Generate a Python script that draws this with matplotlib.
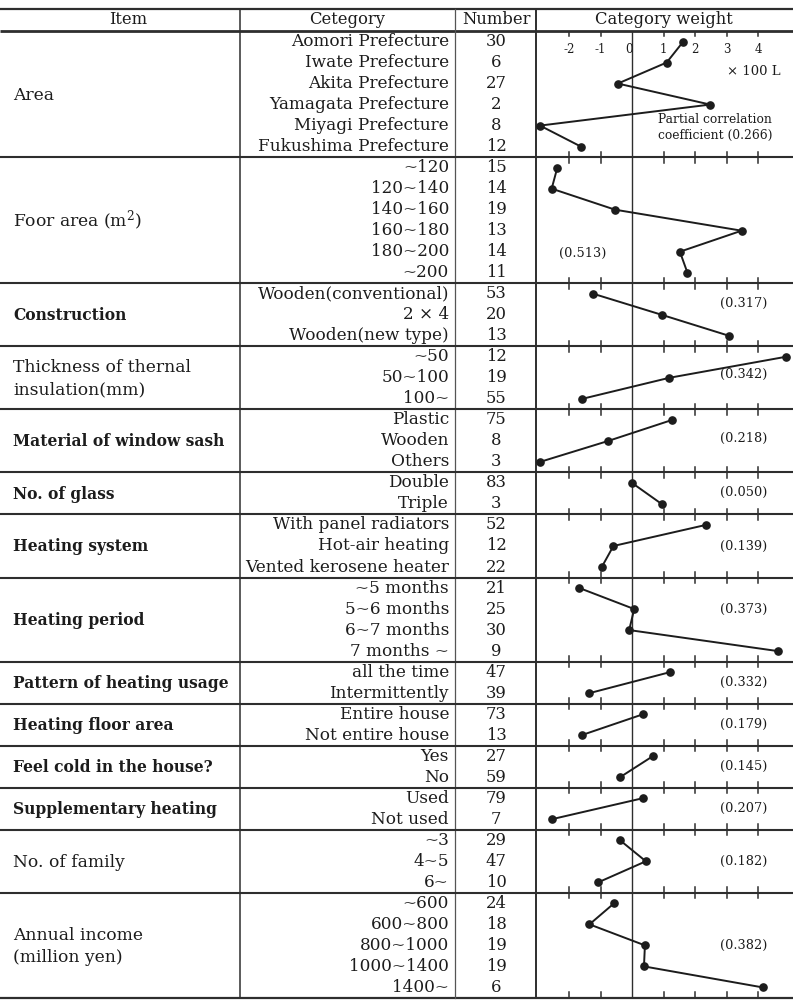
import matplotlib
matplotlib.use("Agg")
import matplotlib.pyplot as plt
import numpy as np

plt.rcParams['font.family'] = ['DejaVu Serif']
plt.rcParams['mathtext.fontset'] = 'dejavuserif'

# ---- table content -------------------------------------------------------
items = [
    "Area",
    "Foor area (m$^2$)",
    "Construction",
    "Thickness of thernal\ninsulation(mm)",
    "Material of window sash",
    "No. of glass",
    "Heating system",
    "Heating period",
    "Pattern of heating usage",
    "Heating floor area",
    "Feel cold in the house?",
    "Supplementary heating",
    "No. of family",
    "Annual income\n(million yen)",
]

area_cats = ["Aomori Prefecture", "Iwate Prefecture", "Akita Prefecture",
             "Yamagata Prefecture", "Miyagi Prefecture", "Fukushima Prefecture"]
floor_cats = ["~120", "120~140", "140~160", "160~180", "180~200", "~200"]
constr_cats = ["Wooden(conventional)", "2 × 4", "Wooden(new type)"]
thick_cats = ["~50", "50~100", "100~"]
sash_cats = ["Plastic", "Wooden", "Others"]
glass_cats = ["Double", "Triple"]
hsys_cats = ["With panel radiators", "Hot-air heating", "Vented kerosene heater"]
period_cats = ["~5 months", "5~6 months", "6~7 months", "7 months ~"]
usage_cats = ["all the time", "Intermittently"]
hfloor_cats = ["Entire house", "Not entire house"]
cold_cats = ["Yes", "No"]
supp_cats = ["Used", "Not used"]
family_cats = ["~3", "4~5", "6~"]
income_cats = ["~600", "600~800", "800~1000", "1000~1400", "1400~"]

area_n = [30, 6, 27, 2, 8, 12]
floor_n = [15, 14, 19, 13, 14, 11]
constr_n = [53, 20, 13]
thick_n = [12, 19, 55]
sash_n = [75, 8, 3]
glass_n = [83, 3]
hsys_n = [52, 12, 22]
period_n = [21, 25, 30, 9]
usage_n = [47, 39]
hfloor_n = [73, 13]
cold_n = [27, 59]
supp_n = [79, 7]
family_n = [29, 47, 10]
income_n = [24, 18, 19, 19, 6]

# category weights (x 100 L)
area_w = [1.63, 1.10, -0.45, 2.48, -2.92, -1.62]
floor_w = [-2.37, -2.55, -0.54, 3.48, 1.52, 1.76]
constr_w = [-1.23, 0.94, 3.08]
thick_w = [4.88, 1.18, -1.58]
sash_w = [1.28, -0.75, -2.92]
glass_w = [0.0, 0.94]
hsys_w = [2.34, -0.59, -0.96]
period_w = [-1.67, 0.07, -0.09, 4.63]
usage_w = [1.21, -1.35]
hfloor_w = [0.36, -1.60]
cold_w = [0.66, -0.38]
supp_w = [0.34, -2.55]
family_w = [-0.38, 0.44, -1.07]
income_w = [-0.57, -1.35, 0.41, 0.38, 4.15]

partial_corr = ["0.266", "0.513", "0.317", "0.342", "0.218", "0.050", "0.139",
                "0.373", "0.332", "0.179", "0.145", "0.207", "0.182", "0.382"]

categories = [area_cats, floor_cats, constr_cats, thick_cats, sash_cats,
              glass_cats, hsys_cats, period_cats, usage_cats, hfloor_cats,
              cold_cats, supp_cats, family_cats, income_cats]
counts = [area_n, floor_n, constr_n, thick_n, sash_n, glass_n, hsys_n,
          period_n, usage_n, hfloor_n, cold_n, supp_n, family_n, income_n]
weights = [area_w, floor_w, constr_w, thick_w, sash_w, glass_w, hsys_w,
           period_w, usage_w, hfloor_w, cold_w, supp_w, family_w, income_w]

weight_ticks = [-2, -1, 0, 1, 2, 3, 4]

# ---- layout (pixels) ------------------------------------------------------
W, H = 793, 1000
TOP_LINE = 9
HEAD_BOT = 31
PITCH = 21.02
n_rows = sum(len(c) for c in categories)
BOTTOM = HEAD_BOT + PITCH * n_rows
X_ITEM = 240
X_NUM = 455
X_WEIGHT = 536
ZERO_PX = 632.0
UNIT_PX = 31.5

INK = "#1c1c1c"
RULE = "#2e2e2e"
FS_ITEM = 12.3
FS_ITEM_BOLD = 11.2
FS_CAT = 12.2
FS_NUM = 11.8
FS_HEAD = 11.8

fig = plt.figure(figsize=(W / 100, H / 100), dpi=100)
fig.patch.set_facecolor("white")

tab = fig.add_axes([0, 0, 1, 1])
tab.set_xlim(0, W)
tab.set_ylim(H, 0)
tab.axis("off")

# header
tab.text(128, 20, "Item", ha="center", va="center", fontsize=FS_HEAD, color=INK)
tab.text(347, 20, "Cetegory", ha="center", va="center", fontsize=FS_HEAD, color=INK)
tab.text(496, 20, "Number", ha="center", va="center", fontsize=FS_HEAD, color=INK)
tab.text(664, 20, "Category weight", ha="center", va="center", fontsize=FS_HEAD, color=INK)

tab.plot([0, W], [TOP_LINE, TOP_LINE], color=RULE, lw=1.6, solid_capstyle="butt")
tab.plot([0, W], [HEAD_BOT, HEAD_BOT], color=RULE, lw=2.0, solid_capstyle="butt")
tab.plot([0, W], [BOTTOM, BOTTOM], color=RULE, lw=1.6, solid_capstyle="butt")

tab.plot([X_ITEM, X_ITEM], [TOP_LINE, BOTTOM], color=RULE, lw=1.1)
tab.plot([X_NUM, X_NUM], [TOP_LINE, BOTTOM], color="#555555", lw=0.9)
tab.plot([X_WEIGHT, X_WEIGHT], [TOP_LINE, BOTTOM], color=RULE, lw=1.4)

# item names printed in heavier type
heavy_items = {2, 4, 5, 6, 7, 8, 9, 10, 11}

row = 0
starts = []
for k, (item, cats, ns) in enumerate(zip(items, categories, counts)):
    starts.append(row)
    y0 = HEAD_BOT + PITCH * row
    y1 = HEAD_BOT + PITCH * (row + len(cats))
    is_heavy = k in heavy_items
    tab.text(13, (y0 + y1) / 2 + 1, item, ha="left", va="center",
             fontsize=FS_ITEM_BOLD if is_heavy else FS_ITEM, color=INK,
             linespacing=1.4, fontweight="bold" if is_heavy else "normal")
    for j, (c, n) in enumerate(zip(cats, ns)):
        yc = HEAD_BOT + PITCH * (row + j + 0.5)
        tab.text(449, yc, c, ha="right", va="center", fontsize=FS_CAT, color=INK)
        tab.text(496, yc, str(n), ha="center", va="center", fontsize=FS_NUM, color=INK)
    row += len(cats)
    if row < n_rows:
        tab.plot([0, W], [y1, y1], color=RULE, lw=1.5, solid_capstyle="butt")

# ---- category weight chart ------------------------------------------------
ax = fig.add_axes([X_WEIGHT / W, 1 - BOTTOM / H,
                   (W - X_WEIGHT) / W, (BOTTOM - HEAD_BOT) / H])
ax.set_xlim((X_WEIGHT - ZERO_PX) / UNIT_PX, (W - ZERO_PX) / UNIT_PX)
ax.set_ylim(n_rows, 0)
ax.axis("off")
ax.patch.set_alpha(0)

ax.axvline(0, color=RULE, lw=1.0)

tick_len = 0.26
seps = [0] + [s + len(c) for s, c in zip(starts, categories)]
for s in seps:
    for t in weight_ticks:
        if t == 0:
            continue
        lo = s - tick_len if s > 0 else s
        hi = s + tick_len if s < n_rows else s
        ax.plot([t, t], [lo, hi], color=RULE, lw=1.1)

for t in weight_ticks:
    ax.text(t - (0.1 if t == 0 else 0), 0.9, str(t), ha="center", va="center",
            fontsize=8.5, color=INK)
ax.text(3.87, 1.95, "× 100 L", ha="center", va="center", fontsize=9.5, color=INK)

for s, w in zip(starts, weights):
    ys = s + np.arange(len(w)) + 0.5
    ax.plot(w, ys, "-o", color=INK, lw=1.4, ms=5.2, mfc=INK, mec=INK,
            clip_on=False, zorder=3)

# partial correlation coefficients
ax.text(0.83, 4.6, "Partial correlation\ncoefficient (" + partial_corr[0] + ")",
        ha="left", va="center", fontsize=8.8, color=INK, linespacing=1.35)
ax.text(-1.56, 10.56, "(" + partial_corr[1] + ")", ha="center", va="center",
        fontsize=9.3, color=INK)
label_shift = {2: -0.55, 3: -0.15, 4: -0.1, 5: -0.05, 7: -0.5}
for k in range(2, len(items)):
    mid = starts[k] + len(categories[k]) / 2
    ax.text(3.55, mid + label_shift.get(k, 0), "(" + partial_corr[k] + ")",
            ha="center", va="center", fontsize=9.3, color=INK)

fig.savefig("out.png", dpi=100, facecolor="white")
